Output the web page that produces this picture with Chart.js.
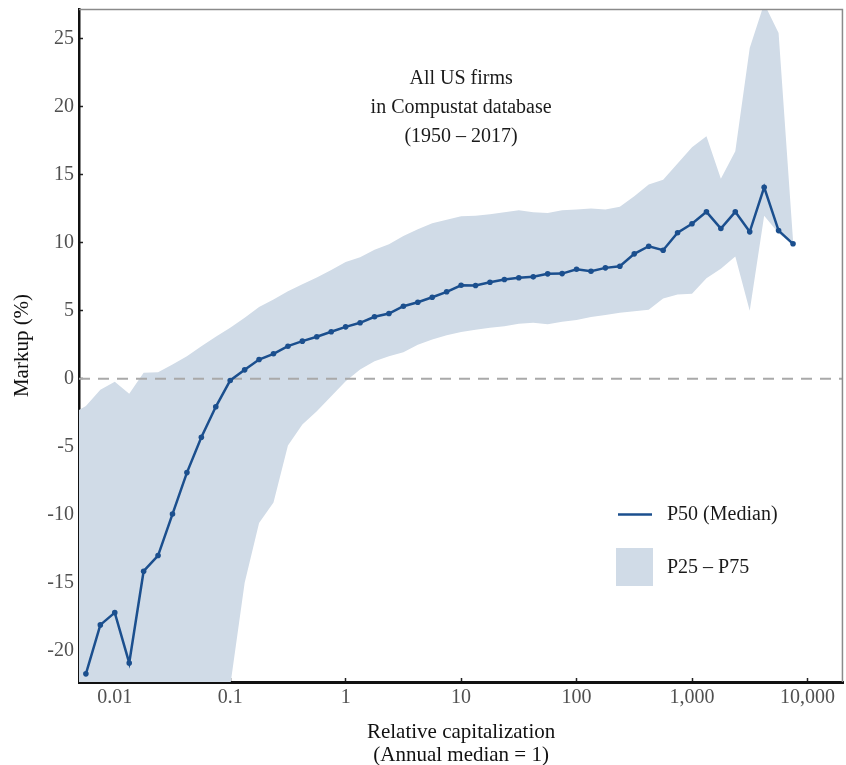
<!DOCTYPE html>
<html><head><meta charset="utf-8">
<script src="https://cdn.jsdelivr.net/npm/chart.js@4"></script>
<style>html,body{margin:0;padding:0;background:#fff;overflow:hidden}</style>
</head><body>
<canvas id="c" width="846" height="765"></canvas>
<script>
// Relative capitalization bins (annual median = 1)
const capX = [0.005623, 0.0075, 0.01, 0.01334, 0.01778, 0.02371, 0.03162, 0.04217, 0.05623, 0.07499,
  0.1, 0.1334, 0.1778, 0.2371, 0.3162, 0.4217, 0.5623, 0.7499, 1, 1.334,
  1.778, 2.371, 3.162, 4.217, 5.623, 7.499, 10, 13.34, 17.78, 23.71,
  31.62, 42.17, 56.23, 74.99, 100, 133.4, 177.8, 237.1, 316.2, 421.7,
  562.3, 749.9, 1000, 1334, 1778, 2371, 3162, 4217, 5623, 7499];
// Markup (%), P50
const p50 = [-21.7, -18.1, -17.2, -20.9, -14.15, -13.0, -9.95, -6.9, -4.3, -2.06,
  -0.12, 0.66, 1.42, 1.84, 2.40, 2.77, 3.09, 3.46, 3.82, 4.12,
  4.56, 4.80, 5.34, 5.63, 6.0, 6.40, 6.88, 6.86, 7.10, 7.30,
  7.43, 7.50, 7.72, 7.74, 8.06, 7.91, 8.16, 8.28, 9.19, 9.75,
  9.46, 10.74, 11.40, 12.28, 11.05, 12.28, 10.81, 14.09, 10.9, 9.93];
// P75
const p75 = [-2.0, -0.8, -0.22, -1.1, 0.44, 0.49, 1.05, 1.66, 2.40, 3.09,
  3.75, 4.49, 5.29, 5.83, 6.44, 6.95, 7.45, 8.0, 8.6, 8.95,
  9.5, 9.9, 10.5, 11.0, 11.45, 11.7, 11.95, 12.0, 12.1, 12.25,
  12.4, 12.25, 12.2, 12.4, 12.45, 12.52, 12.45, 12.65, 13.43, 14.29,
  14.65, 15.83, 17.03, 17.84, 14.71, 16.74, 24.34, 27.6, 25.44, 10.2];
// P25 (values left of 0.1 lie below the visible range)
const p25 = [-30, -30, -30, -30, -30, -30, -30, -30, -30, -30,
  -22.6, -15.0, -10.6, -9.1, -4.9, -3.36, -2.38, -1.28, -0.18, 0.68,
  1.29, 1.66, 1.95, 2.5, 2.9, 3.2, 3.45, 3.6, 3.75, 3.87,
  4.05, 4.12, 4.02, 4.2, 4.33, 4.55, 4.7, 4.85, 4.97, 5.08,
  5.9, 6.2, 6.25, 7.4, 8.1, 9.0, 5.0, 12.0, 10.7, 9.85];
// band value at the left edge of the plot
const edgeX = 0.0049, edgeP75 = -2.3, edgeP25 = -30;

const xTicks = [0.01, 0.1, 1, 10, 100, 1000, 10000];
const yTicks = [-20, -15, -10, -5, 0, 5, 10, 15, 20, 25];
const X_MIN = 0.0049, X_MAX = 20400, Y_MIN = -22.3, Y_MAX = 27.2;
const noteLines = ['All US firms', 'in Compustat database', '(1950 \u2013 2017)'];
const legendLabels = ['P50 (Median)', 'P25 \u2013 P75'];
const xTitle = ['Relative capitalization', '(Annual median = 1)'];
const yTitle = 'Markup (%)';

const SERIF = "'Liberation Serif', 'Times New Roman', serif";
const BLUE = '#1b4f8e';
const BAND = '#d0dbe7';

const bandX = [edgeX].concat(capX);
const bandHi = [edgeP75].concat(p75);
const bandLo = [edgeP25].concat(p25);

const deco = {
  id: 'deco',
  afterDraw(chart) {
    const {ctx, chartArea: a} = chart;
    ctx.save();
    // top / right frame
    ctx.strokeStyle = '#8a8a8a';
    ctx.lineWidth = 1.5;
    ctx.beginPath();
    ctx.moveTo(a.left, a.top + 0.5);
    ctx.lineTo(a.right - 0.75, a.top + 0.5);
    ctx.lineTo(a.right - 0.75, a.bottom);
    ctx.stroke();
    // annotation
    ctx.fillStyle = '#1a1a1a';
    ctx.font = '20px ' + SERIF;
    ctx.textAlign = 'center';
    ctx.textBaseline = 'middle';
    const cx = chart.scales.x.getPixelForValue(10);
    noteLines.forEach((t, i) => ctx.fillText(t, cx, 79 + i * 29));
    // legend
    ctx.strokeStyle = BLUE;
    ctx.lineWidth = 2.5;
    ctx.beginPath();
    ctx.moveTo(618, 514.5);
    ctx.lineTo(652, 514.5);
    ctx.stroke();
    ctx.fillStyle = BAND;
    ctx.fillRect(616, 548, 37, 38);
    ctx.fillStyle = '#1a1a1a';
    ctx.textAlign = 'left';
    ctx.font = '20px ' + SERIF;
    ctx.fillText(legendLabels[0], 667, 515);
    ctx.fillText(legendLabels[1], 667, 568);
    ctx.restore();
  }
};

new Chart(document.getElementById('c'), {
  type: 'line',
  data: {
    datasets: [
      {
        label: 'P50',
        data: capX.map((x, i) => ({x: x, y: p50[i]})),
        borderColor: BLUE, backgroundColor: BLUE,
        borderWidth: 2.5, pointRadius: 2.8, pointBorderWidth: 0,
        pointHoverRadius: 0, fill: false, tension: 0, order: 0
      },
      {
        label: 'zero',
        data: [{x: X_MIN, y: 0}, {x: X_MAX, y: 0}],
        borderColor: '#a9a9a9', borderWidth: 2, borderDash: [11, 8],
        pointRadius: 0, fill: false, order: 1
      },
      {
        label: 'P75',
        data: bandX.map((x, i) => ({x: x, y: bandHi[i]})),
        borderColor: 'rgba(0,0,0,0)', borderWidth: 0, backgroundColor: BAND,
        pointRadius: 0, fill: '+1', tension: 0, order: 2
      },
      {
        label: 'P25',
        data: bandX.map((x, i) => ({x: x, y: bandLo[i]})),
        borderColor: 'rgba(0,0,0,0)', borderWidth: 0,
        pointRadius: 0, fill: false, tension: 0, order: 3
      }
    ]
  },
  options: {
    responsive: false,
    animation: false,
    devicePixelRatio: 1,
    events: [],
    layout: {padding: {top: 9, left: 0, right: 0, bottom: 0}},
    plugins: {legend: {display: false}, tooltip: {enabled: false}},
    scales: {
      x: {
        type: 'logarithmic', min: X_MIN, max: X_MAX,
        afterBuildTicks: s => { s.ticks = xTicks.map(v => ({value: v})); },
        afterFit: s => { s.height = 83; s.paddingLeft = 0; s.paddingRight = 0; },
        ticks: {
          autoSkip: false, maxRotation: 0, minRotation: 0, padding: 8,
          color: '#505050', font: {family: SERIF, size: 20},
          callback: v => (v >= 1000 ? Number(v).toLocaleString('en-US') : String(v))
        },
        grid: {drawOnChartArea: false, drawTicks: true, tickLength: -4, tickColor: '#222', tickWidth: 1.5},
        border: {display: true, color: '#111', width: 3},
        title: {display: true, text: xTitle, color: '#111',
          font: {family: SERIF, size: 21, lineHeight: 1.1}, padding: {top: 0, bottom: -2}}
      },
      y: {
        type: 'linear', min: Y_MIN, max: Y_MAX,
        afterBuildTicks: s => { s.ticks = yTicks.map(v => ({value: v})); },
        afterFit: s => { s.width = 79; s.paddingTop = 0; s.paddingBottom = 0; },
        ticks: {padding: 9, color: '#505050', font: {family: SERIF, size: 20},
          callback: v => String(v)},
        grid: {drawOnChartArea: false, drawTicks: true, tickLength: -4, tickColor: '#222', tickWidth: 1.5},
        border: {display: true, color: '#111', width: 2.5},
        title: {display: true, text: yTitle, color: '#111',
          font: {family: SERIF, size: 21}, padding: {top: 10, bottom: 0}}
      }
    }
  },
  plugins: [deco]
});
</script>
</body></html>
